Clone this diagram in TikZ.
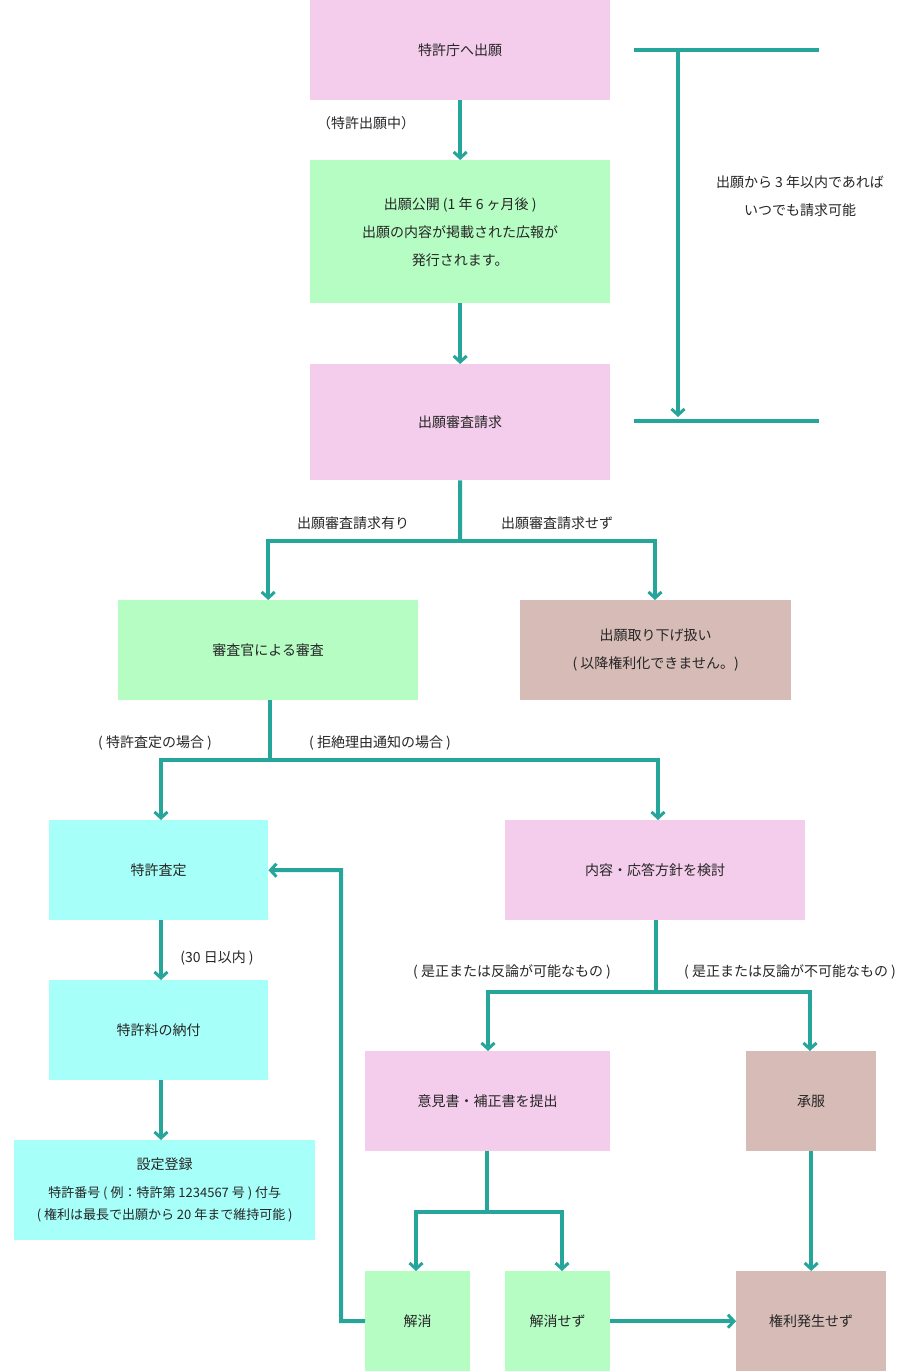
\documentclass[tikz,border=0pt]{standalone}
\usepackage{fontspec}
\setmainfont{Noto Sans CJK JP}
\usetikzlibrary{arrows.meta}
\definecolor{pinkbox}{HTML}{F4CCEC}
\definecolor{greenbox}{HTML}{B5FDC3}
\definecolor{cyanbox}{HTML}{A6FFF9}
\definecolor{brownbox}{HTML}{D6BBB6}
\definecolor{teal}{HTML}{26A69A}
\tikzset{
  box/.style={anchor=north west, inner sep=0pt, align=center, font=\fontsize{14}{28}\selectfont, text=black!85},
  pinkb/.style={box, fill=pinkbox},
  greenb/.style={box, fill=greenbox},
  cyanb/.style={box, fill=cyanbox},
  brownb/.style={box, fill=brownbox},
  link/.style={teal, line width=4pt, -{Straight Barb[length=6pt,width=13pt,line width=3pt]}},
  bar/.style={teal, line width=4pt},
  lbl/.style={font=\fontsize{14}{28}\selectfont, text=black!85},
}
\begin{document}
\begin{tikzpicture}[x=1pt,y=-1pt]
\useasboundingbox (0,0) rectangle (920,1371);

% boxes
\node[pinkb, minimum width=300pt, minimum height=100pt] (apply) at (310,0) {特許庁へ出願};
\node[greenb, minimum width=300pt, minimum height=143pt] (publish) at (310,160) {出願公開 (1 年 6 ヶ月後 )\\出願の内容が掲載された広報が\\発行されます。};
\node[pinkb, minimum width=300pt, minimum height=116pt] (request) at (310,364) {出願審査請求};
\node[greenb, minimum width=300pt, minimum height=100pt] (exam) at (118,600) {審査官による審査};
\node[brownb, minimum width=271pt, minimum height=100pt] (withdraw) at (520,600) {出願取り下げ扱い\\( 以降権利化できません。)};
\node[cyanb, minimum width=219pt, minimum height=100pt] (grant) at (49,820) {特許査定};
\node[pinkb, minimum width=300pt, minimum height=100pt] (review) at (505,820) {内容・応答方針を検討};
\node[cyanb, minimum width=219pt, minimum height=100pt] (fee) at (49,980) {特許料の納付};
\node[cyanb, minimum width=301pt, minimum height=100pt, font=\fontsize{14}{28}\selectfont] (register) at (14,1140) {設定登録\\{\fontsize{13}{22}\selectfont 特許番号 ( 例：特許第 1234567 号 ) 付与}\\[-6pt]{\fontsize{13}{22}\selectfont ( 権利は最長で出願から 20 年まで維持可能 )}};
\node[pinkb, minimum width=245pt, minimum height=100pt] (submit) at (365,1051) {意見書・補正書を提出};
\node[brownb, minimum width=130pt, minimum height=100pt] (accept) at (746,1051) {承服};
\node[greenb, minimum width=105pt, minimum height=100pt] (solved) at (365,1271) {解消};
\node[greenb, minimum width=105pt, minimum height=100pt] (unsolved) at (505,1271) {解消せず};
\node[brownb, minimum width=150pt, minimum height=100pt] (norights) at (736,1271) {権利発生せず};

% bracket on the right
\draw[bar] (634,50) -- (819,50);
\draw[bar] (634,421) -- (819,421);
\draw[link] (678,50) -- (678,417);
\node[lbl, align=center] (limit) at (800,196) {出願から 3 年以内であれば\\いつでも請求可能};

% connectors
\draw[link] (apply) -- (publish);
\node[lbl] (pending) at (366,123) {（特許出願中）};
\draw[link] (publish) -- (request);

\coordinate (cfork) at (460,541);
\draw[bar] (request.south) -- (cfork);
\draw[link] (cfork) -| (exam.north);
\draw[link] (cfork) -| (655,600);
\node[lbl] (yes) at (353,523) {出願審査請求有り};
\node[lbl] (no) at (557,523) {出願審査請求せず};

\coordinate (dfork) at (270,760);
\draw[bar] (270,700) -- (dfork);
\draw[link] (dfork) -| (161,820);
\draw[link] (dfork) -| (658,820);
\node[lbl] (case1) at (155,743) {( 特許査定の場合 )};
\node[lbl] (case2) at (380,743) {( 拒絶理由通知の場合 )};

\draw[link] (161,920) -- (161,980);
\node[lbl] (days) at (217,958) {(30 日以内 )};
\draw[link] (161,1080) -- (161,1140);

\coordinate (gfork) at (656,992);
\draw[bar] (656,920) -- (gfork);
\draw[link] (gfork) -| (488,1051);
\draw[link] (gfork) -| (810,1051);
\node[lbl] (ok) at (512,972) {( 是正または反論が可能なもの )};
\node[lbl] (ng) at (790,972) {( 是正または反論が不可能なもの )};

\coordinate (jfork) at (487,1212);
\draw[bar] (487,1151) -- (jfork);
\draw[link] (jfork) -| (416,1271);
\draw[link] (jfork) -| (562,1271);

\draw[link] (solved.west) -- (341,1321) |- (grant.east);
\draw[link] (unsolved.east) -- (norights.west);
\draw[link] (accept) -- (norights);
\end{tikzpicture}
\end{document}
